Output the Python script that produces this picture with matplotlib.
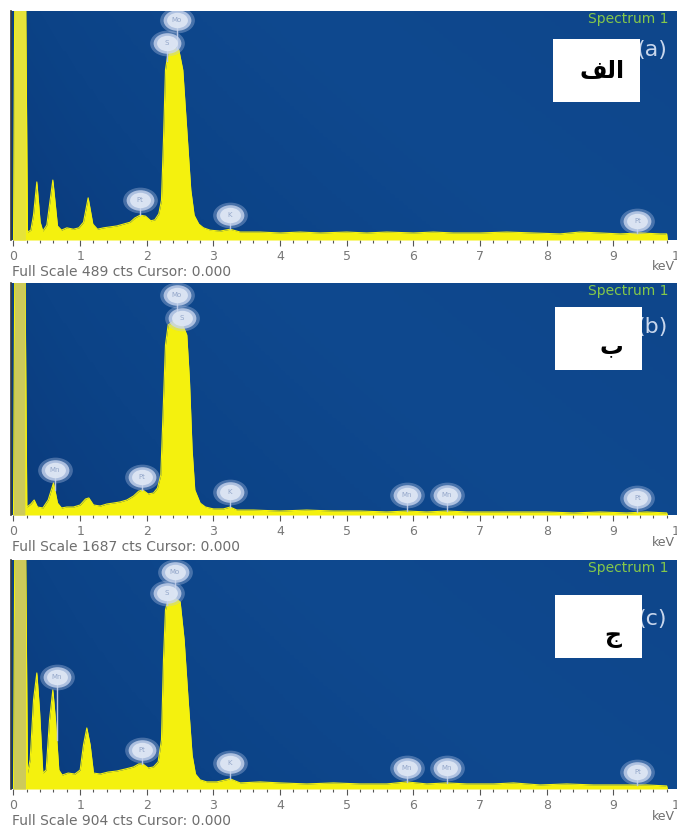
import numpy as np
import matplotlib
matplotlib.use("Agg")
import matplotlib.pyplot as plt
from matplotlib.path import Path
from matplotlib.patches import Rectangle
from matplotlib.colors import LinearSegmentedColormap

# ---- spectra (keV, counts) ----
kev_a = [0.0, 0.02, 0.18, 0.21, 0.26, 0.30, 0.35, 0.40, 0.44, 0.50, 0.59, 0.66, 0.72, 0.80, 0.90,
         0.98, 1.05, 1.12, 1.19, 1.26, 1.35, 1.45, 1.55, 1.65, 1.75, 1.82, 1.90, 1.98, 2.06, 2.12,
         2.18, 2.22, 2.25, 2.28, 2.32, 2.40, 2.48, 2.54, 2.60, 2.66, 2.71, 2.78, 2.85, 2.95, 3.10,
         3.25, 3.40, 3.70, 4.00, 4.30, 4.60, 5.00, 5.30, 5.60, 6.00, 6.30, 6.60, 7.00, 7.40, 7.80,
         8.20, 8.50, 8.80, 9.10, 9.40, 9.70, 9.80, 9.81]
cts_a = [0, 560, 560, 17, 21, 53, 124, 38, 19, 32, 128, 30, 21, 26, 23,
         26, 38, 90, 34, 23, 26, 28, 30, 34, 38, 47, 53, 51, 41, 43,
         56, 85, 213, 363, 401, 412, 406, 363, 235, 107, 53, 34, 26, 21, 19,
         23, 17, 17, 15, 17, 15, 17, 15, 17, 15, 17, 15, 15, 17, 15,
         13, 17, 15, 13, 15, 13, 13, 0]

kev_b = [0.0, 0.02, 0.17, 0.20, 0.26, 0.31, 0.36, 0.44, 0.52, 0.60, 0.66, 0.72, 0.80, 0.90, 1.00,
         1.08, 1.13, 1.20, 1.30, 1.40, 1.50, 1.60, 1.70, 1.80, 1.88, 1.94, 2.02, 2.10, 2.16, 2.21,
         2.24, 2.28, 2.32, 2.42, 2.52, 2.60, 2.64, 2.68, 2.72, 2.80, 2.88, 3.00, 3.15, 3.25, 3.35,
         3.60, 4.00, 4.40, 4.80, 5.20, 5.60, 5.90, 6.20, 6.50, 6.80, 7.20, 7.60, 8.00, 8.40, 8.80,
         9.20, 9.50, 9.80, 9.81]
cts_b = [0, 1900, 1900, 58, 80, 109, 58, 51, 109, 233, 87, 51, 58, 58, 73,
         116, 124, 73, 65, 80, 87, 95, 109, 138, 174, 182, 153, 160, 196, 291,
         691, 1236, 1381, 1418, 1403, 1309, 981, 473, 182, 87, 58, 44, 44, 58, 36,
         36, 29, 36, 29, 29, 22, 29, 22, 29, 22, 22, 22, 22, 15, 22,
         15, 22, 15, 0]

kev_c = [0.0, 0.02, 0.18, 0.21, 0.25, 0.30, 0.35, 0.39, 0.44, 0.49, 0.54, 0.59, 0.63, 0.68, 0.73,
         0.82, 0.92, 1.00, 1.05, 1.10, 1.15, 1.20, 1.30, 1.42, 1.55, 1.68, 1.80, 1.88, 1.94, 2.02,
         2.10, 2.17, 2.22, 2.25, 2.28, 2.32, 2.42, 2.50, 2.56, 2.62, 2.68, 2.73, 2.80, 2.90, 3.05,
         3.25, 3.40, 3.70, 4.00, 4.40, 4.80, 5.20, 5.60, 5.90, 6.20, 6.50, 6.80, 7.20, 7.50, 7.90,
         8.30, 8.70, 9.10, 9.50, 9.80, 9.81]
cts_c = [0, 1000, 1000, 63, 115, 351, 458, 312, 63, 75, 272, 391, 272, 75, 55,
         63, 59, 75, 174, 241, 174, 63, 59, 67, 71, 79, 87, 99, 99, 83,
         87, 107, 194, 510, 707, 747, 754, 739, 589, 352, 134, 59, 36, 28, 28,
         40, 24, 28, 24, 20, 24, 20, 20, 28, 20, 24, 20, 20, 24, 16,
         20, 16, 16, 16, 12, 0]

full_scale = [489, 1687, 904]

# ---- element tags (symbol, keV, counts at tag centre) ----
tags_a = ["Pt", "S", "Mo", "K", "Pt"]
tag_kev_a = [1.90, 2.30, 2.45, 3.25, 9.36]
tag_cts_a = [85, 421, 470, 53, 41]

tags_b = ["Mn", "Pt", "S", "Mo", "K", "Mn", "Mn", "Pt"]
tag_kev_b = [0.62, 1.93, 2.53, 2.45, 3.25, 5.90, 6.50, 9.36]
tag_cts_b = [327, 276, 1432, 1600, 167, 145, 145, 124]

tags_c = ["Mn", "Pt", "S", "Mo", "K", "Mn", "Mn", "Pt"]
tag_kev_c = [0.65, 1.93, 2.30, 2.42, 3.25, 5.90, 6.50, 9.36]
tag_cts_c = [442, 154, 774, 857, 103, 83, 83, 67]

panel_names = ["(a)", "(b)", "(c)"]
arabic_labels = ["\ufed2\ufedf\ufe8d",  # الف
                 "\u0628",              # ب
                 "\u062c"]              # ج

W, H = 677, 827
fig = plt.figure(figsize=(W / 100, H / 100), dpi=100)
fig.patch.set_facecolor("white")

YELLOW = "#f4f10e"
ZERO = ["#e6e33a", "#cdca5a", "#cdca5a"]
GREY = "#6e6e6e"

blue_cmap = LinearSegmentedColormap.from_list(
    "eds", ["#0a3a7c", "#0c4387", "#0f498f", "#0e468b"])

circ = Path.unit_circle()
blob = Path(circ.vertices * np.array([1.35, 1.0]), circ.codes)


def px_axes(x0, top, x1, bottom):
    return fig.add_axes([x0 / W, 1 - bottom / H, (x1 - x0) / W, (bottom - top) / H])


def draw_tags(ax, syms, tkev, tcts, kev, cts):
    for s, e, c in zip(syms, tkev, tcts):
        base = np.interp(e, kev, cts)
        ax.plot([e, e], [min(base, c), c], color="#b9c8e3", lw=1.0, zorder=4)
        ax.plot(e, c, marker=blob, ms=25, color="#b6c6e6", alpha=0.35, mec="none", zorder=5)
        ax.plot(e, c, marker=blob, ms=20, color="#c8d5ee", alpha=0.8, mec="none", zorder=5)
        ax.plot(e, c, marker=blob, ms=15, color="#dde6f4", alpha=0.95, mec="none", zorder=6)
        ax.text(e, c, s, fontsize=5, color="#93a6c9", ha="center", va="center", zorder=7)


spectra = [(kev_a, cts_a, tags_a, tag_kev_a, tag_cts_a),
           (kev_b, cts_b, tags_b, tag_kev_b, tag_cts_b),
           (kev_c, cts_c, tags_c, tag_kev_c, tag_cts_c)]
tops = [11, 283, 560]
bottoms = [240, 515, 789]
boxes = [(553, 39, 640, 102), (555, 307, 642, 370), (555, 595, 642, 658)]
arabic_pos = [(602, 71), (611, 346), (613, 636)]
name_y = [50, 327, 619]

for i, (kev, cts, syms, tkev, tcts) in enumerate(spectra):
    kev = np.array(kev)
    cts = np.array(cts)
    fs = full_scale[i]
    ax = px_axes(11, tops[i], 680, bottoms[i])
    ax.set_xlim(-0.0375, 10.0)
    ax.set_ylim(0, fs)

    # blue background
    gx = np.linspace(0, 1, 300)
    gy = np.linspace(0, 1, 60)
    grad = 0.75 * gx[None, :] ** 0.7 + 0.25 * gy[:, None]
    ax.imshow(grad, cmap=blue_cmap, extent=[-0.0375, 10.0, 0, fs], aspect="auto",
              origin="lower", zorder=0)

    ax.fill_between(kev, cts, 0, color=YELLOW, lw=0, zorder=2)
    ax.plot(kev, cts, color=YELLOW, lw=0.8, zorder=2)
    ax.fill_between(kev, cts, 0, where=kev <= 0.19, color=ZERO[i], lw=0, zorder=3)

    draw_tags(ax, syms, tkev, tcts, kev, cts)

    for side in ["top", "right", "bottom"]:
        ax.spines[side].set_visible(False)
    ax.spines["left"].set_color("#3a3a3a")
    ax.spines["left"].set_linewidth(1.2)
    ax.set_yticks([])
    ax.set_xticks(np.arange(0, 11, 1))
    ax.set_xticklabels([str(v) for v in range(11)])
    ax.set_xticks(np.arange(0, 10.01, 0.2), minor=True)
    ax.tick_params(axis="x", which="major", direction="out", length=4, width=0.8,
                   color="#555555", labelcolor="#777777", labelsize=9, pad=3.5)
    ax.tick_params(axis="x", which="minor", direction="out", length=2.5, width=0.8,
                   color="#555555")

    fig.text(588 / W, 1 - (tops[i] + 8) / H, "Spectrum 1",
             fontsize=10, color="#84c84a", ha="left", va="center", zorder=8)
    fig.text(667 / W, 1 - name_y[i] / H, panel_names[i],
             fontsize=16, color="#c8d6ec", ha="right", va="center", zorder=8)

    fig.text(12 / W, 1 - (bottoms[i] + 32) / H,
             "Full Scale %d cts Cursor: 0.000" % fs,
             fontsize=10, color=GREY, ha="left", va="center")
    fig.text(652 / W, 1 - (bottoms[i] + 27) / H, "keV",
             fontsize=9, color=GREY, ha="left", va="center")

    x0, y0, x1, y1 = boxes[i]
    fig.add_artist(Rectangle((x0 / W, 1 - y1 / H), (x1 - x0) / W, (y1 - y0) / H,
                             transform=fig.transFigure, facecolor="white",
                             edgecolor="none", zorder=10))
    fig.text(arabic_pos[i][0] / W, 1 - arabic_pos[i][1] / H, arabic_labels[i],
             fontsize=17, fontweight="bold", color="black", family="DejaVu Sans",
             ha="center", va="center", zorder=11)

fig.savefig("out.png", dpi=100)
